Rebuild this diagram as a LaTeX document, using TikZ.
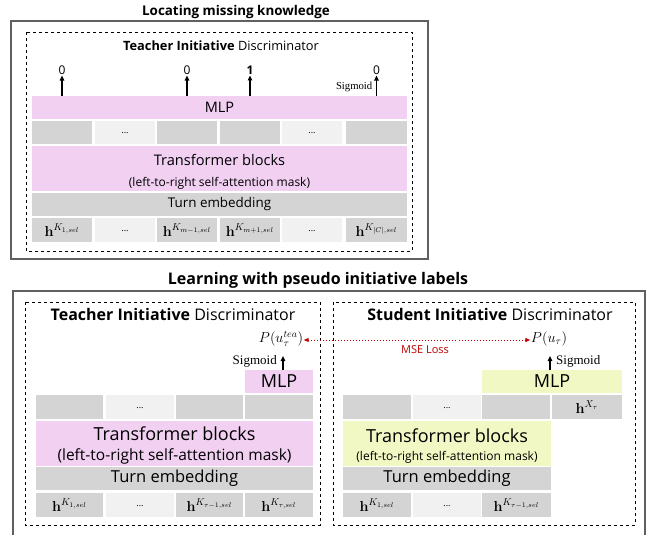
\documentclass[tikz,border=0pt]{standalone}
\usepackage[no-math]{fontspec}
\setmainfont{Open Sans}
\newfontfamily\sigfont{Liberation Serif}
\usepackage{amsmath,amssymb}
\usetikzlibrary{arrows.meta}
\definecolor{pinkc}{HTML}{F1D0F2}
\definecolor{yelc}{HTML}{F2F8C4}
\definecolor{darkc}{HTML}{D4D4D4}
\definecolor{lightc}{HTML}{F1F1F1}
\definecolor{framec}{HTML}{606060}
\definecolor{redc}{HTML}{C00000}
\newcommand\cellbox[7]{\node[cellbase,#2,minimum width={(#5-#3)*1pt},minimum height={(#6-#4)*1pt}] (#1) at (#3,#4) {#7};}
\newcommand\hsel[1]{{\fontsize{14.5}{16}\selectfont$\mathbf{h}^{K_{#1,sel}}$}}
\newcommand\dotsx{\raisebox{-3pt}{\fontsize{9}{10}\selectfont ...}}
\begin{document}
\begin{tikzpicture}[x=1pt,y=-1pt,
  cellbase/.style={anchor=north west,inner sep=0pt,outer sep=0pt,align=center},
  dark/.style={fill=darkc},
  light/.style={fill=lightc},
  pinkb/.style={fill=pinkc},
  yelb/.style={fill=yelc},
  outerbox/.style={draw=framec,line width=1.2pt},
  dashbox/.style={draw=black,dashed,line width=0.7pt},
  titleA/.style={font=\bfseries\fontsize{13.4}{15}\selectfont},
  titleB/.style={font=\bfseries\fontsize{16}{18}\selectfont},
  discA/.style={font=\fontsize{12.8}{14}\selectfont},
  discB/.style={font=\fontsize{16}{18}\selectfont,inner sep=1pt},
  lab/.style={font=\fontsize{12}{13}\selectfont,inner sep=1pt},
  sigA/.style={font=\sigfont\fontsize{10.7}{12}\selectfont,inner sep=1pt},
  sigB/.style={font=\sigfont\fontsize{13}{14}\selectfont,inner sep=1pt},
  pnode/.style={inner sep=0.5pt,font=\fontsize{14.5}{16}\selectfont},
  arr/.style={-{Triangle[length=5pt,width=4.5pt]},line width=1.4pt}]
\useasboundingbox (0,0) rectangle (651,535);

% ---------------- Top section ----------------
\node[titleA] (t1) at (236,12) {Locating missing knowledge};
\draw[outerbox] (11,21) rectangle (428,259);
\draw[dashbox] (26,32) rectangle (412,251);
\node[discA] (d1) at (221,46) {\textbf{Teacher Initiative} Discriminator};

\cellbox{mlp1}{pinkb}{32}{96}{407}{119}{\fontsize{14.5}{16}\selectfont MLP}
\cellbox{a1}{dark}{32}{121}{92}{144}{}
\cellbox{a2}{light}{95}{121}{155}{144}{\dotsx}
\cellbox{a3}{dark}{157}{121}{217}{144}{}
\cellbox{a4}{dark}{220}{121}{280}{144}{}
\cellbox{a5}{light}{282}{121}{342}{144}{\dotsx}
\cellbox{a6}{dark}{346}{121}{407}{144}{}
\cellbox{tr1}{pinkb}{32}{146}{407}{191}{}
\node[font=\fontsize{14.6}{16}\selectfont] (tr1a) at (tr1.center |- 0,160) {Transformer blocks};
\node[font=\fontsize{12}{13}\selectfont] (tr1b) at (tr1.center |- 0,183) {(left-to-right self-attention mask)};
\cellbox{te1}{dark}{32}{193}{407}{216}{\fontsize{13.4}{15}\selectfont Turn embedding}
\cellbox{b1}{dark}{32}{218}{92}{242}{\hsel{1}}
\cellbox{b2}{light}{95}{218}{155}{242}{\dotsx}
\cellbox{b3}{dark}{157}{218}{217}{242}{\hsel{m-1}}
\cellbox{b4}{dark}{220}{218}{280}{242}{\hsel{m+1}}
\cellbox{b5}{light}{282}{218}{342}{242}{\dotsx}
\cellbox{b6}{dark}{346}{218}{407}{242}{\hsel{|C|}}

\node[lab] (o1) at (a1 |- 0,70) {0};
\node[lab] (o3) at (a3 |- 0,70) {0};
\node[lab] (o4) at (a4 |- 0,70) {\bfseries 1};
\node[lab] (o6) at (a6 |- 0,70) {0};
\draw[arr] (mlp1.north -| o1) -- (o1.south);
\draw[arr] (mlp1.north -| o3) -- (o3.south);
\draw[arr] (mlp1.north -| o4) -- (o4.south);
\draw[arr] (mlp1.north -| o6) -- (o6.south);
\node[sigA,anchor=east] (s1) at ([xshift=-3pt]o6 |- 0,87) {Sigmoid};

% ---------------- Bottom section ----------------
\node[titleB] (t2) at (318,280) {Learning with pseudo initiative labels};
\draw[outerbox] (13,545) -- (13,291) -- (645,291) -- (645,545);
\draw[dashbox] (25,302) rectangle (320,525);
\draw[dashbox] (333,302) rectangle (635,525);
\node[discB] (d2) at (173,314) {\textbf{Teacher Initiative} Discriminator};
\node[discB] (d3) at (490,314) {\textbf{Student Initiative} Discriminator};

% left teacher
\cellbox{mlp2}{pinkb}{245}{370}{313}{393}{\fontsize{18}{20}\selectfont MLP}
\cellbox{c1}{dark}{36}{395}{103}{419}{}
\cellbox{c2}{light}{106}{395}{174}{419}{\dotsx}
\cellbox{c3}{dark}{176}{395}{243}{419}{}
\cellbox{c4}{dark}{245}{395}{313}{419}{}
\cellbox{tr2}{pinkb}{36}{421}{313}{466}{}
\node[font=\fontsize{18}{20}\selectfont] (tr2a) at (tr2.center |- 0,434) {Transformer blocks};
\node[font=\fontsize{15.5}{17}\selectfont] (tr2b) at (tr2.center |- 0,456) {(left-to-right self-attention mask)};
\cellbox{te2}{dark}{36}{467}{313}{490}{\fontsize{16.5}{18}\selectfont Turn embedding}
\cellbox{e1}{dark}{36}{493}{103}{517}{\hsel{1}}
\cellbox{e2}{light}{106}{493}{174}{517}{\dotsx}
\cellbox{e3}{dark}{176}{493}{243}{517}{\hsel{\tau-1}}
\cellbox{e4}{dark}{245}{493}{313}{517}{\hsel{\tau}}
\node[pnode] (ptea) at (281,339) {$P(u_\tau^{tea})$};
\coordinate (tipL) at (283,356);
\draw[arr] (mlp2.north -| tipL) -- (tipL);
\node[sigB,anchor=east] (s2) at (278,361) {Sigmoid};

% right student
\cellbox{mlp3}{yelb}{482}{370}{622}{393}{\fontsize{18}{20}\selectfont MLP}
\cellbox{f1}{dark}{343}{395}{411}{419}{}
\cellbox{f2}{light}{413}{395}{481}{419}{\dotsx}
\cellbox{f3}{dark}{482}{395}{550}{419}{}
\cellbox{f4}{dark}{552}{395}{622}{419}{\fontsize{14.5}{16}\selectfont$\mathbf{h}^{X_\tau}$}
\cellbox{tr3}{yelb}{343}{421}{551}{466}{}
\node[font=\fontsize{18}{20}\selectfont] (tr3a) at (tr3.center |- 0,436) {Transformer blocks};
\node[font=\fontsize{12}{13}\selectfont] (tr3b) at (tr3.center |- 0,457) {(left-to-right self-attention mask)};
\cellbox{te3}{dark}{343}{467}{551}{490}{\fontsize{16.5}{18}\selectfont Turn embedding}
\cellbox{g1}{dark}{343}{493}{411}{517}{\hsel{1}}
\cellbox{g2}{light}{413}{493}{481}{517}{\dotsx}
\cellbox{g3}{dark}{482}{493}{551}{517}{\hsel{\tau-1}}
\node[pnode] (pu) at (549,339) {$P(u_\tau)$};
\coordinate (tipR) at (550,356);
\draw[arr] (mlp3.north -| tipR) -- (tipR);
\node[sigB,anchor=west] (s3) at (555,361) {Sigmoid};

\draw[redc,dotted,line width=1pt,{Triangle[length=5pt,width=4pt]}-{Triangle[length=5pt,width=4pt]}] (ptea.east |- 0,340) -- (pu.west |- 0,340);
\node[text=redc,font=\fontsize{11}{12}\selectfont] (mse) at (425,350) {MSE Loss};
\end{tikzpicture}
\end{document}
